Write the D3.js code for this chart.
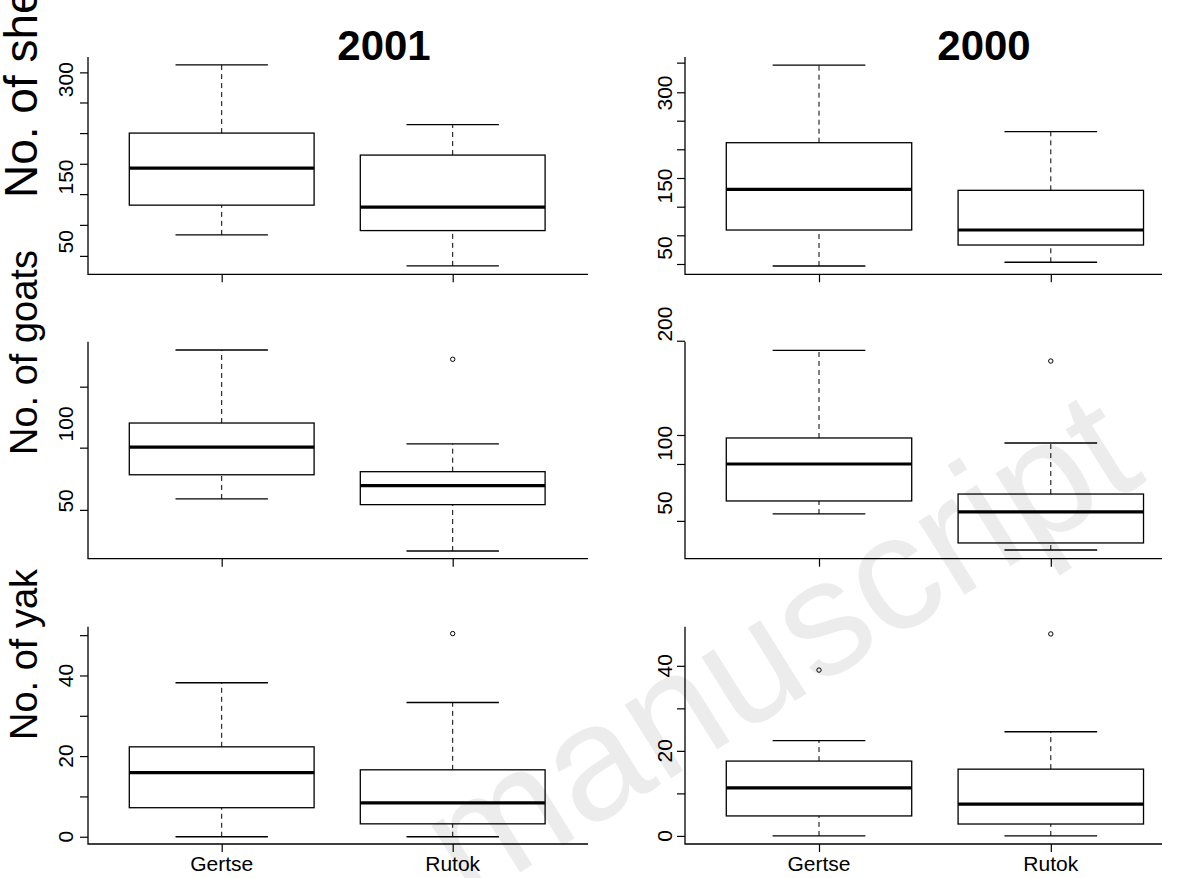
<!DOCTYPE html>
<html>
<head>
<meta charset="utf-8">
<script src="https://cdn.jsdelivr.net/npm/d3@7"></script>
<style>
html,body{margin:0;padding:0;background:#fff;}
svg{display:block;font-family:"Liberation Sans",Arial,Helvetica,sans-serif;}
</style>
</head>
<body>
<svg id="chart" width="1177" height="878"></svg>
<script>
// ---------------- data ----------------
const groups = ["Gertse", "Rutok"];
const years = ["2001", "2000"];
const yTitles = ["No. of sheep", "No. of goats", "No. of yak"];

// box stats: [lower whisker, Q1, median, Q3, upper whisker]
const sheep2001 = [[60.8, 106.6, 163.7, 217.7, 323], [13, 67.4, 103.5, 183.8, 230.6]];
const sheep2000 = [[21, 79, 144.7, 219.8, 345], [27, 54.8, 79, 143, 237.6]];
const goats2001 = [[51.3, 67, 85, 100.6, 148], [17.5, 47.6, 60, 69, 87]];
const goats2000 = [[40.8, 51.7, 82.7, 104.5, 178], [10.6, 16.5, 42.5, 57.5, 100.3]];
const yak2001 = [[0, 7.2, 15.9, 22.3, 38.2], [0, 3.2, 8.4, 16.6, 33.3]];
const yak2000 = [[0, 4.7, 11.3, 17.6, 22.4], [0, 2.8, 7.5, 15.7, 24.5]];

// outliers per group
const goats2001Out = [[], [142]];
const goats2000Out = [[], [169]];
const yak2001Out = [[], [50.4]];
const yak2000Out = [[39], [47.5]];
const noOut = [[], []];

// axis ticks and labels per panel
const sheep2001Ticks = [28.4, 76.2, 123.6, 170.4, 217.7, 264.9, 311.3];
const sheep2000Ticks = [24.2, 70.5, 116.6, 162.9, 209.2, 255.3, 301.1, 348.9];
const goats2001Ticks = [44.2, 84.6, 124.2];
const goats2000Ticks = [35, 82.7, 107, 186];
const yak2001Ticks = [0, 10, 20, 30, 40, 50];
const yak2000Ticks = [0, 10, 20, 30, 40];
const sheepLabels = [50, 150, 300];
const goats2001Labels = [50, 100];
const goats2000Labels = [50, 100, 200];
const yakLabels = [0, 20, 40];

// y domains (value at bottom / top of plot region)
const sheep2001Dom = [0, 335];
const sheep2000Dom = [7.6, 358];
const goats2001Dom = [12.5, 153.4];
const goats2000Dom = [3.3, 185.2];
const yak2001Dom = [-1.8, 52.1];
const yak2000Dom = [-1.9, 49.2];

// ---------------- layout ----------------
const svg = d3.select("#chart");

// watermark
svg.append("text")
  .attr("transform", "translate(468,905) rotate(-32)")
  .attr("font-size", 164)
  .attr("fill", "#ececec")
  .text("manuscript");

const cols = [
  {axisX: 88, endX: 588, x1: 221.7, x2: 452.7, title: 384, labX: 73},
  {axisX: 685, endX: 1162, x1: 819, x2: 1050.8, title: 984, labX: 671.5}
];
const rows = [
  {top: 57, bottom: 274.3},
  {top: 341.7, bottom: 558.7},
  {top: 626.7, bottom: 844}
];

const panels = [
  {r: 0, c: 0, stats: sheep2001, out: noOut, ticks: sheep2001Ticks, labels: sheepLabels, dom: sheep2001Dom},
  {r: 0, c: 1, stats: sheep2000, out: noOut, ticks: sheep2000Ticks, labels: sheepLabels, dom: sheep2000Dom},
  {r: 1, c: 0, stats: goats2001, out: goats2001Out, ticks: goats2001Ticks, labels: goats2001Labels, dom: goats2001Dom},
  {r: 1, c: 1, stats: goats2000, out: goats2000Out, ticks: goats2000Ticks, labels: goats2000Labels, dom: goats2000Dom},
  {r: 2, c: 0, stats: yak2001, out: yak2001Out, ticks: yak2001Ticks, labels: yakLabels, dom: yak2001Dom},
  {r: 2, c: 1, stats: yak2000, out: yak2000Out, ticks: yak2000Ticks, labels: yakLabels, dom: yak2000Dom}
];

const tickLen = 8;

panels.forEach(p => {
  const col = cols[p.c], row = rows[p.r];
  const x = d3.scaleLinear().domain([1, 2]).range([col.x1, col.x2]);
  const y = d3.scaleLinear().domain(p.dom).range([row.bottom, row.top]);
  const g = svg.append("g");

  // L-shaped frame (axis lines)
  g.append("path")
    .attr("d", `M${col.axisX},${row.top}V${row.bottom}H${col.endX}`)
    .attr("fill", "none").attr("stroke", "#000").attr("stroke-width", 1.3);

  // y ticks
  const yAx = d3.axisLeft(y).tickValues(p.ticks).tickFormat("").tickSize(tickLen).tickSizeOuter(0);
  const ya = g.append("g").attr("transform", `translate(${col.axisX},0)`).call(yAx);
  ya.select(".domain").remove();
  ya.selectAll(".tick line").attr("stroke", "#000").attr("stroke-width", 1.2);

  // y labels
  g.selectAll(".ylab").data(p.labels).enter().append("text")
    .attr("transform", d => `translate(${col.labX},${y(d)}) rotate(-90)`)
    .attr("text-anchor", "middle")
    .attr("font-size", 21)
    .text(d => d);

  // x ticks
  const xAx = d3.axisBottom(x).tickValues([1, 2]).tickFormat("").tickSize(tickLen).tickSizeOuter(0);
  const xa = g.append("g").attr("transform", `translate(0,${row.bottom})`).call(xAx);
  xa.select(".domain").remove();
  xa.selectAll(".tick line").attr("stroke", "#000").attr("stroke-width", 1.2);

  if (p.r === 2) {
    g.selectAll(".xlab").data(groups).enter().append("text")
      .attr("x", (d, i) => x(i + 1))
      .attr("y", row.bottom + 27)
      .attr("text-anchor", "middle")
      .attr("font-size", 21)
      .text(d => d);
  }

  const boxHalf = 0.4, capHalf = 0.2;
  p.stats.forEach((s, i) => {
    const cx = x(i + 1);
    const bw = x(1 + boxHalf) - x(1);
    const cw = x(1 + capHalf) - x(1);
    // whiskers (dashed)
    g.append("line").attr("x1", cx).attr("x2", cx).attr("y1", y(s[0])).attr("y2", y(s[1]))
      .attr("stroke", "#000").attr("stroke-width", 1).attr("stroke-dasharray", "5,4");
    g.append("line").attr("x1", cx).attr("x2", cx).attr("y1", y(s[3])).attr("y2", y(s[4]))
      .attr("stroke", "#000").attr("stroke-width", 1).attr("stroke-dasharray", "5,4");
    // caps
    [s[0], s[4]].forEach(v => {
      g.append("line").attr("x1", cx - cw).attr("x2", cx + cw).attr("y1", y(v)).attr("y2", y(v))
        .attr("stroke", "#000").attr("stroke-width", 1.3);
    });
    // box
    g.append("rect").attr("x", cx - bw).attr("width", 2 * bw)
      .attr("y", y(s[3])).attr("height", y(s[1]) - y(s[3]))
      .attr("fill", "none").attr("stroke", "#000").attr("stroke-width", 1.3);
    // median
    g.append("line").attr("x1", cx - bw).attr("x2", cx + bw).attr("y1", y(s[2])).attr("y2", y(s[2]))
      .attr("stroke", "#000").attr("stroke-width", 3.2);
    // outliers
    p.out[i].forEach(v => {
      g.append("circle").attr("cx", cx).attr("cy", y(v)).attr("r", 2.2)
        .attr("fill", "none").attr("stroke", "#000").attr("stroke-width", 1);
    });
  });
});

// titles
years.forEach((yr, i) => {
  svg.append("text").attr("x", cols[i].title).attr("y", 60)
    .attr("text-anchor", "middle").attr("font-size", 42).attr("font-weight", "bold")
    .text(yr);
});

// y titles (row labels)
const yTitleStart = [198, 455, 740];
const yTitleSize = [46, 38, 38];
yTitles.forEach((t, i) => {
  svg.append("text")
    .attr("transform", `translate(37,${yTitleStart[i]}) rotate(-90)`)
    .attr("text-anchor", "start")
    .attr("font-size", yTitleSize[i])
    .text(t);
});
</script>
</body>
</html>
